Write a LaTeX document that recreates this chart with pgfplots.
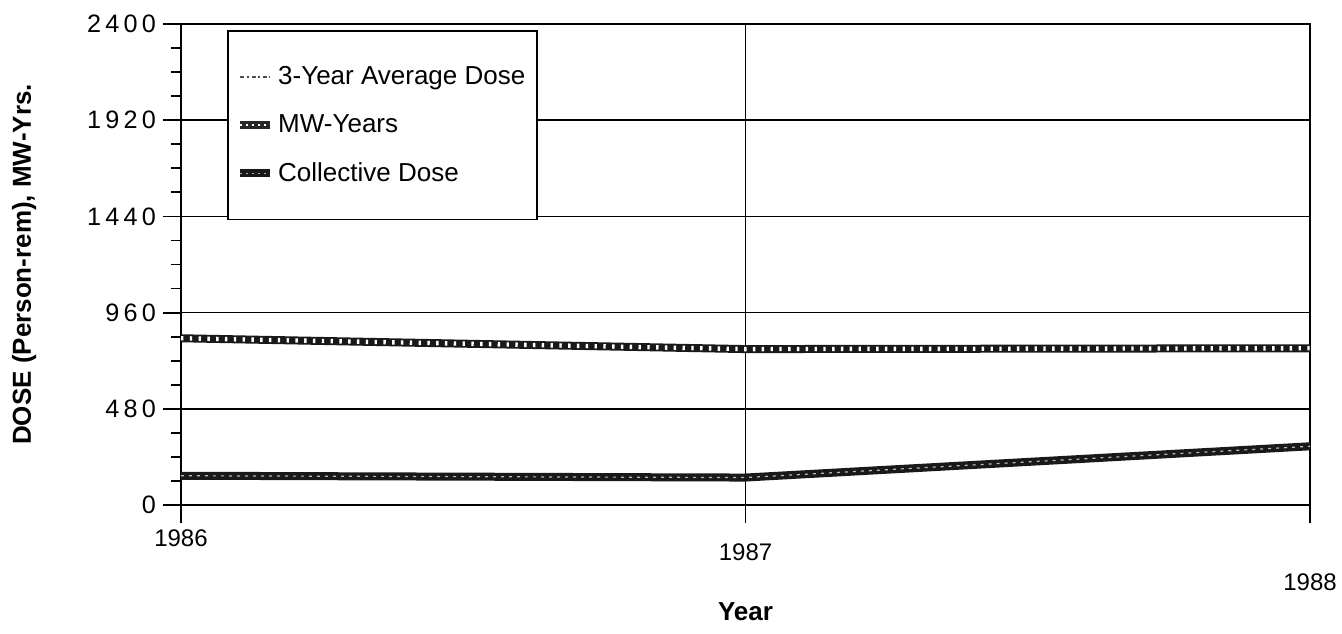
\documentclass[border=0pt]{standalone}
\usepackage{fontspec}
\setmainfont{Liberation Sans}
\newfontfamily\ytickfont[LetterSpace=17]{Liberation Sans}
\newcommand{\yt}[1]{{\ytickfont\fontsize{12.6}{14}\selectfont #1}}
\newcommand{\xt}[1]{{\fontsize{12}{14}\selectfont #1}}
\usepackage{pgfplots}
\usepackage{pgfplotstable}
\pgfplotsset{compat=1.18}

\pgfplotstableread{
year mw coll
1986 832 146
1987 778 137
1988 782 293
}\datatable

\begin{document}
\begin{tikzpicture}
\path[use as bounding box] (-90.5pt,-64pt) rectangle (580.5pt,252.5pt);
\begin{axis}[
  scale only axis, width=564.5pt, height=240.5pt,
  xmin=1986, xmax=1988, ymin=0, ymax=2400,
  xtick={1986,1987,1988},
  xticklabels={\xt{1986},\raisebox{-15pt}{\xt{1987}},\raisebox{-30pt}{\xt{1988}}},
  ytick={0,480,960,1440,1920,2400},
  yticklabels={\yt{0},\yt{480},\yt{960},\yt{1440},\yt{1920},\yt{2400}},
  minor y tick num=3,
  tick align=outside,
  xtick pos=bottom, ytick pos=left,
  major tick length=9pt, minor tick length=5pt,
  grid=major,
  major grid style={black, line width=0.8pt},
  axis line style={black, line width=1pt},
  every tick/.style={black, line width=0.9pt},
  xlabel={\textbf{Year}},
  ylabel={\textbf{DOSE (Person-rem), MW-Yrs.}},
  xlabel style={at={(axis description cs:0.5,-0.2225)}, anchor=center, font=\fontsize{13}{15}\selectfont},
  ylabel style={at={(axis description cs:-0.139,0.5)}, anchor=center, font=\fontsize{13}{15}\selectfont},
  legend style={at={(axis description cs:0.041,0.988)}, anchor=north west,
    draw=black, line width=0.9pt, fill=white,
    font=\fontsize{13}{15}\selectfont,
    inner xsep=4pt, inner ysep=15.75pt, row sep=9.5pt,
    cells={anchor=west}},
]
\addlegendimage{legend image code/.code={
  \draw[black!70, line width=1.2pt, dash pattern=on 2pt off 1.2pt on 1pt off 1.5pt] (0pt,0pt) -- (15pt,0pt);}}
\addlegendentry{3-Year Average Dose}

\addplot[black!90, line width=4pt, line cap=butt,
  legend image code/.code={
    \draw[black!85, line width=4pt] (0pt,0pt) -- (15pt,0pt);
    \draw[white, line width=0.8pt, dash pattern=on 1pt off 2pt] (0pt,0pt) -- (15pt,0pt);}]
  table[x=year, y=mw] {\datatable};
\addlegendentry{MW-Years}
\addplot[white, line width=2.2pt, dash pattern=on 1.2pt off 3.2pt, forget plot]
  table[x=year, y=mw] {\datatable};

\addplot[black!90, line width=4pt, line cap=butt,
  legend image code/.code={
    \draw[black!90, line width=4pt] (0pt,0pt) -- (15pt,0pt);
    \draw[gray!60, line width=0.5pt, dash pattern=on 1pt off 2pt] (0pt,0pt) -- (15pt,0pt);}]
  table[x=year, y=coll] {\datatable};
\addlegendentry{Collective Dose}
\addplot[gray!55, line width=0.6pt, dash pattern=on 1.5pt off 2.5pt, forget plot]
  table[x=year, y=coll] {\datatable};
\end{axis}
\end{tikzpicture}
\end{document}
